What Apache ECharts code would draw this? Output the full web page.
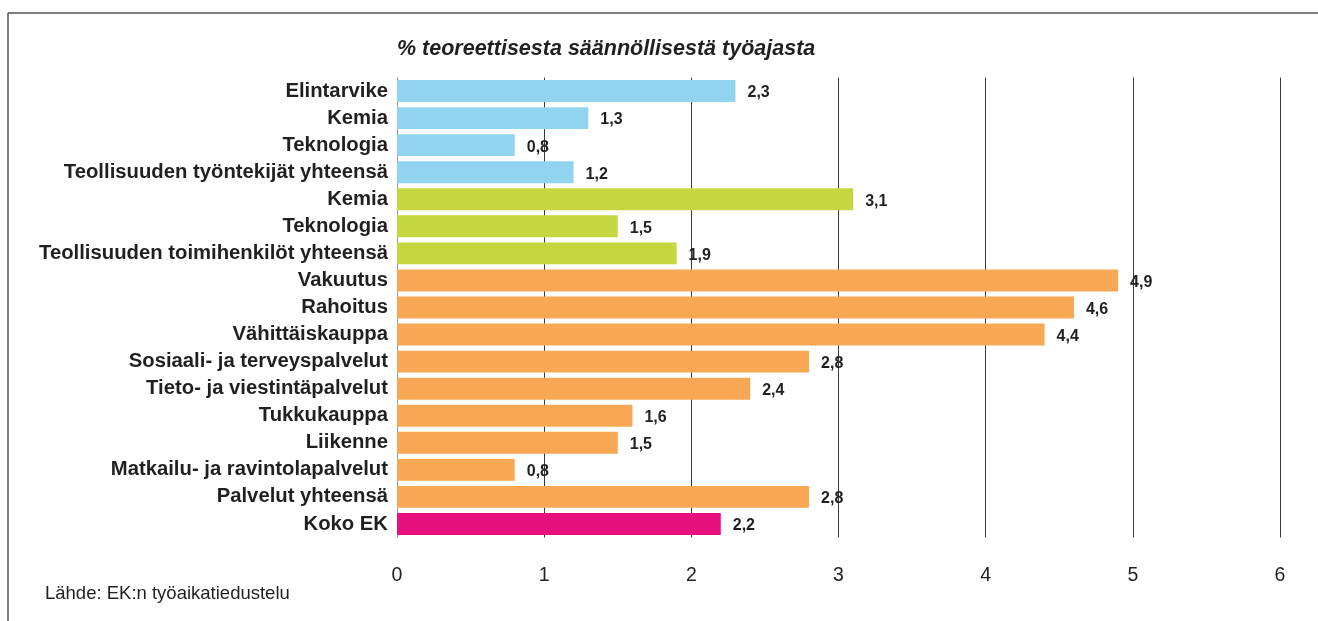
<!DOCTYPE html>
<html>
<head>
<meta charset="utf-8">
<script src="https://cdn.jsdelivr.net/npm/echarts@6/dist/echarts.min.js"></script>
<style>
html,body{margin:0;padding:0;background:#fff;}
#chart{width:1318px;height:621px;}
</style>
</head>
<body>
<div id="chart"></div>
<script>
const categories = [
  'Elintarvike', 'Kemia', 'Teknologia', 'Teollisuuden työntekijät yhteensä',
  'Kemia ', 'Teknologia ', 'Teollisuuden toimihenkilöt yhteensä',
  'Vakuutus', 'Rahoitus', 'Vähittäiskauppa', 'Sosiaali- ja terveyspalvelut',
  'Tieto- ja viestintäpalvelut', 'Tukkukauppa', 'Liikenne',
  'Matkailu- ja ravintolapalvelut', 'Palvelut yhteensä', 'Koko EK'
];
const values = [2.3, 1.3, 0.8, 1.2, 3.1, 1.5, 1.9, 4.9, 4.6, 4.4, 2.8, 2.4, 1.6, 1.5, 0.8, 2.8, 2.2];
const groups = ['tyontekijat','tyontekijat','tyontekijat','tyontekijat',
  'toimihenkilot','toimihenkilot','toimihenkilot',
  'palvelut','palvelut','palvelut','palvelut','palvelut','palvelut','palvelut','palvelut','palvelut',
  'koko'];
const xTicks = [0, 1, 2, 3, 4, 5, 6];
const titleText = '% teoreettisesta säännöllisestä työajasta';
const sourceText = 'Lähde: EK:n työaikatiedustelu';

const groupColors = {
  tyontekijat: '#92d3f0',
  toimihenkilot: '#c4d73e',
  palvelut: '#f8a855',
  koko: '#e5127e'
};

const chart = echarts.init(document.getElementById('chart'), null, {renderer: 'canvas'});
const FONT = '"Liberation Sans", Arial, Helvetica, sans-serif';

chart.setOption({
  animation: false,
  backgroundColor: '#fff',
  grid: {left: 397, right: 38, top: 77.5, bottom: 83.5, containLabel: false},
  xAxis: {
    type: 'value',
    min: xTicks[0],
    max: xTicks[xTicks.length - 1],
    interval: 1,
    axisLine: {show: false},
    axisTick: {show: false},
    axisLabel: {
      color: '#222', fontFamily: FONT, fontSize: 19.5, margin: 28,
      formatter: v => String(v)
    },
    splitLine: {show: true, showMinLine: false, lineStyle: {color: '#3a3a3a', width: 1}}
  },
  yAxis: {
    type: 'category',
    data: categories,
    inverse: true,
    axisLine: {show: true, lineStyle: {color: '#999', width: 1}},
    axisTick: {show: false},
    axisLabel: {
      color: '#231f20', fontFamily: FONT, fontSize: 20.3, fontWeight: 'bold', margin: 9,
      formatter: v => v.trim()
    }
  },
  series: [{
    type: 'bar',
    data: values,
    barCategoryGap: '19%',
    itemStyle: {
      color: p => groupColors[groups[p.dataIndex]]
    },
    label: {
      show: true,
      position: 'right',
      distance: 12,
      offset: [0, 2],
      color: '#231f20',
      fontFamily: FONT,
      fontSize: 16,
      fontWeight: 'bold',
      formatter: p => p.value.toFixed(1).replace('.', ',')
    }
  }],
  graphic: [
    {type: 'line', shape: {x1: 8, y1: 13, x2: 1318, y2: 13}, style: {stroke: '#555', lineWidth: 1.5}},
    {type: 'line', shape: {x1: 8, y1: 13, x2: 8, y2: 621}, style: {stroke: '#555', lineWidth: 1.5}},
    {type: 'text', left: 397, top: 38, style: {
      text: titleText, fill: '#231f20', font: 'italic bold 21.5px ' + FONT
    }},
    {type: 'text', left: 45, top: 584, style: {
      text: sourceText, fill: '#231f20', font: '18.5px ' + FONT
    }}
  ]
});
</script>
</body>
</html>
